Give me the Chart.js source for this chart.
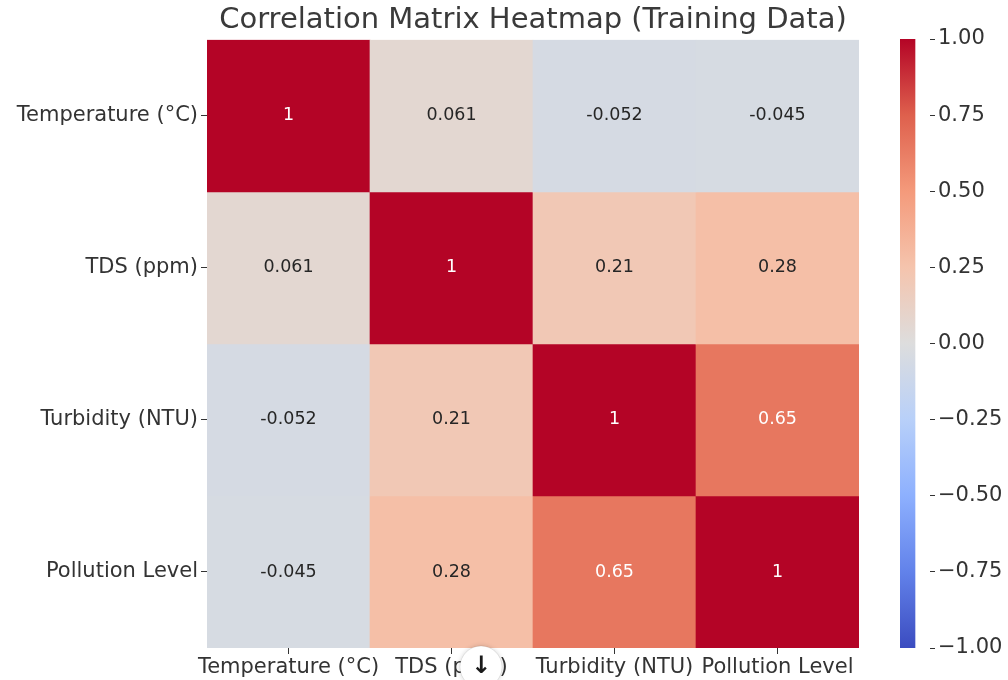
<!DOCTYPE html>
<html>
<head>
<meta charset="utf-8">
<script src="https://cdn.jsdelivr.net/npm/chart.js@4/dist/chart.umd.min.js"></script>
<style>
  html, body { margin: 0; padding: 0; background: #ffffff; }
  #wrap { position: relative; width: 1008px; height: 680px; }
  #main { position: absolute; left: 0; top: 0; }
  #cbar { position: absolute; left: 860px; top: 0; }
</style>
</head>
<body>
<div id="wrap">
  <canvas id="main" width="1008" height="680"></canvas>
  <canvas id="cbar" width="148" height="680"></canvas>
</div>
<script>
// ---- data ----
const variables = ["Temperature (°C)", "TDS (ppm)", "Turbidity (NTU)", "Pollution Level"];
const temperatureRow = [1, 0.061, -0.052, -0.045];
const tdsRow = [0.061, 1, 0.21, 0.28];
const turbidityRow = [-0.052, 0.21, 1, 0.65];
const pollutionRow = [-0.045, 0.28, 0.65, 1];
const matrixRows = [temperatureRow, tdsRow, turbidityRow, pollutionRow];
const colorbarTicks = [-1, -0.75, -0.5, -0.25, 0, 0.25, 0.5, 0.75, 1];
const titleText = "Correlation Matrix Heatmap (Training Data)";

// ---- coolwarm colormap ----
const cwStops = [
  [0.0, [59, 76, 192]],
  [0.125, [98, 130, 234]],
  [0.25, [141, 176, 254]],
  [0.375, [184, 208, 249]],
  [0.5, [221, 221, 221]],
  [0.625, [245, 196, 173]],
  [0.75, [244, 154, 123]],
  [0.875, [222, 96, 77]],
  [1.0, [180, 4, 38]]
];
function coolwarmRGB(t) {
  t = Math.max(0, Math.min(1, t));
  for (let i = 1; i < cwStops.length; i++) {
    if (t <= cwStops[i][0]) {
      const [t0, c0] = cwStops[i - 1], [t1, c1] = cwStops[i];
      const f = (t - t0) / (t1 - t0);
      return c0.map((c, k) => Math.round(c + (c1[k] - c) * f));
    }
  }
  return cwStops[cwStops.length - 1][1];
}
function valueColor(v) {
  const c = coolwarmRGB((v + 1) / 2);
  return `rgb(${c[0]},${c[1]},${c[2]})`;
}
function textColor(v) {
  const c = coolwarmRGB((v + 1) / 2).map(x => {
    x /= 255;
    return x <= 0.03928 ? x / 12.92 : Math.pow((x + 0.055) / 1.055, 2.4);
  });
  const lum = 0.2126 * c[0] + 0.7152 * c[1] + 0.0722 * c[2];
  return lum > 0.408 ? '#262626' : '#ffffff';
}
function fmt2g(v) { return String(Number(v.toPrecision(2))); }

const FONT = "'DejaVu Sans', 'Liberation Sans', sans-serif";

// ---- heatmap cells as floating bars ----
const datasets = matrixRows.map((row, j) => ({
  label: variables[j],
  data: row.map(() => [j, j + 1]),
  values: row,
  backgroundColor: row.map(valueColor),
  borderWidth: 0,
  borderSkipped: false,
  barPercentage: 1.0,
  categoryPercentage: 1.0
}));

const annotatePlugin = {
  id: 'annotate',
  afterDatasetsDraw(chart) {
    const ctx = chart.ctx;
    ctx.save();
    ctx.font = `17.5px ${FONT}`;
    ctx.textAlign = 'center';
    ctx.textBaseline = 'middle';
    chart.data.datasets.forEach((ds, j) => {
      const meta = chart.getDatasetMeta(j);
      meta.data.forEach((el, i) => {
        const v = ds.values[i];
        ctx.fillStyle = textColor(v);
        ctx.fillText(fmt2g(v), el.x, (el.y + el.base) / 2);
      });
    });
    ctx.restore();
  }
};

const overlayPlugin = {
  id: 'scrollButton',
  afterDraw(chart) {
    const ctx = chart.ctx;
    ctx.save();
    ctx.shadowColor = 'rgba(0,0,0,0.18)';
    ctx.shadowBlur = 5;
    ctx.beginPath();
    ctx.arc(481, 667, 21, 0, Math.PI * 2);
    ctx.fillStyle = '#ffffff';
    ctx.fill();
    ctx.shadowColor = 'transparent';
    ctx.strokeStyle = 'rgba(0,0,0,0.08)';
    ctx.lineWidth = 1;
    ctx.stroke();
    ctx.fillStyle = '#1a1a1a';
    ctx.font = `bold 24px ${FONT}`;
    ctx.textAlign = 'center';
    ctx.textBaseline = 'middle';
    ctx.fillText('↓', 481, 667);
    ctx.restore();
  }
};

new Chart(document.getElementById('main'), {
  type: 'bar',
  data: { labels: variables, datasets },
  options: {
    responsive: false,
    animation: false,
    layout: { padding: { left: 0, right: 149, top: 0, bottom: 0 } },
    plugins: {
      legend: { display: false },
      tooltip: { enabled: false },
      title: {
        display: true,
        text: titleText,
        fullSize: false,
        color: '#3a3a3a',
        font: { family: FONT, size: 29, weight: 'normal' },
        padding: { top: 3, bottom: 2 }
      }
    },
    scales: {
      x: {
        type: 'category',
        stacked: true,
        offset: true,
        grid: { display: true, drawOnChartArea: false, offset: false, tickLength: 6, color: '#333333', tickWidth: 1 },
        border: { display: false },
        ticks: {
          autoSkip: false, maxRotation: 0, minRotation: 0,
          color: '#333333', font: { family: FONT, size: 21 }, padding: 1
        },
        afterFit(scale) { scale.height = 32; }
      },
      y: {
        type: 'linear',
        stacked: false,
        min: 0, max: 4, reverse: true,
        grid: { display: true, drawOnChartArea: false, tickLength: 6, color: '#333333', tickWidth: 1 },
        border: { display: false },
        afterBuildTicks(scale) {
          scale.ticks = variables.map((_, i) => ({ value: i + 0.5 }));
        },
        ticks: {
          color: '#333333', font: { family: FONT, size: 21 }, padding: 3,
          callback(value) { return variables[Math.floor(value)]; }
        },
        afterFit(scale) { scale.width = 207; }
      }
    }
  },
  plugins: [annotatePlugin, overlayPlugin]
});

// ---- colorbar ----
new Chart(document.getElementById('cbar'), {
  type: 'bar',
  data: {
    labels: [''],
    datasets: [{
      data: [[-1, 1]],
      borderWidth: 0,
      borderSkipped: false,
      barPercentage: 1.0,
      categoryPercentage: 1.0,
      backgroundColor(context) {
        const a = context.chart.chartArea;
        if (!a) return '#dddddd';
        const g = context.chart.ctx.createLinearGradient(0, a.bottom, 0, a.top);
        cwStops.forEach(([t, c]) => g.addColorStop(t, `rgb(${c[0]},${c[1]},${c[2]})`));
        return g;
      }
    }]
  },
  options: {
    responsive: false,
    animation: false,
    layout: { padding: { left: 40, right: 0, top: 39, bottom: 32 } },
    plugins: { legend: { display: false }, tooltip: { enabled: false }, title: { display: false } },
    scales: {
      x: { display: false, offset: false },
      y: {
        position: 'right',
        min: -1, max: 1,
        grid: { display: true, drawOnChartArea: false, tickLength: 5, color: '#333333' },
        border: { display: false },
        afterBuildTicks(scale) { scale.ticks = colorbarTicks.map(v => ({ value: v })); },
        ticks: {
          color: '#333333', font: { family: FONT, size: 21 }, padding: 3,
          callback(value) { return value.toFixed(2).replace('-', '\u2212'); }
        },
        afterFit(scale) { scale.width = 78; }
      }
    }
  }
});
</script>
</body>
</html>
